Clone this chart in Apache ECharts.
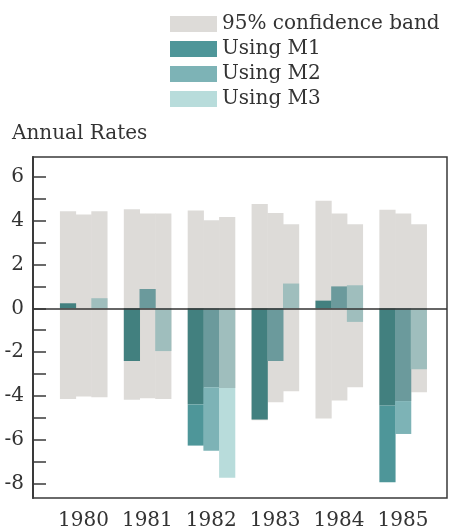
<!DOCTYPE html>
<html>
<head>
<meta charset="utf-8">
<script src="https://cdn.jsdelivr.net/npm/echarts@6/dist/echarts.min.js"></script>
<style>
html,body{margin:0;padding:0;background:#fff;}
#c{width:452px;height:531px;}
</style>
</head>
<body>
<div id="c"></div>
<script>
// ---- data ----
var years = ['1980', '1981', '1982', '1983', '1984', '1985'];
// 95% confidence band, three columns per year (M1, M2, M3)
var bandHighM1 = [4.43, 4.52, 4.46, 4.76, 4.91, 4.50];
var bandHighM2 = [4.28, 4.32, 4.02, 4.35, 4.32, 4.32];
var bandHighM3 = [4.43, 4.32, 4.16, 3.83, 3.83, 3.83];
var bandLowM1 = [-4.13, -4.17, -4.38, -5.10, -5.03, -4.43];
var bandLowM2 = [-4.02, -4.10, -3.60, -4.28, -4.20, -4.23];
var bandLowM3 = [-4.05, -4.14, -3.63, -3.78, -3.60, -3.83];
// forecast errors
var m1 = [0.23, -2.40, -6.26, -5.07, 0.35, -7.93];
var m2 = [0.00, 0.88, -6.50, -2.40, 1.00, -5.73];
var m3 = [0.46, -1.95, -7.73, 1.13, 1.05, -2.78];
var m3From = [0, 0, 0, 0, -0.62, 0];
var zeros = [0, 0, 0, 0, 0, 0];
var yTicks = [-8, -7, -6, -5, -4, -3, -2, -1, 0, 1, 2, 3, 4, 5, 6];
var yLabels = [-8, -6, -4, -2, 0, 2, 4, 6];
var seriesNames = ['95% confidence band', 'Using M1', 'Using M2', 'Using M3'];

var bandColor = '#dddbd8';
var colors = ['#4e9699', '#7db3b6', '#b8dcdb'];
var innerColors = ['#42807f', '#6b9a9c', '#9fbebd'];
var COLW = 0.2457;
var FONT = 'DejaVu Serif';
var INK = '#333';

var bandHigh = [bandHighM1, bandHighM2, bandHighM3];
var bandLow = [bandLowM1, bandLowM2, bandLowM3];
var vals = [m1, m2, m3];
var froms = [zeros, zeros, m3From];

var bandData = [];
for (var i = 0; i < years.length; i++) {
  for (var c = 0; c < 3; c++) {
    bandData.push([i, c, bandLow[c][i], bandHigh[c][i]]);
  }
}
function seriesData(c) {
  var d = [];
  for (var i = 0; i < years.length; i++) {
    d.push([i, c, froms[c][i], vals[c][i], bandLow[c][i], bandHigh[c][i]]);
  }
  return d;
}

function rectFor(api, i, c, a, b, color) {
  var x0 = i + (c - 1.5) * COLW;
  var p1 = api.coord([x0, Math.max(a, b)]);
  var p2 = api.coord([x0 + COLW, Math.min(a, b)]);
  return {
    type: 'rect',
    shape: { x: p1[0], y: p1[1], width: p2[0] - p1[0] + 0.5, height: p2[1] - p1[1] },
    style: { fill: color }
  };
}

function bandRender(params, api) {
  return rectFor(api, api.value(0), api.value(1), api.value(2), api.value(3), bandColor);
}

function barRender(params, api) {
  var i = api.value(0), c = api.value(1);
  var from = api.value(2), to = api.value(3), lo = api.value(4), hi = api.value(5);
  var top = Math.max(from, to), bot = Math.min(from, to);
  var children = [];
  if (top === bot) return { type: 'group', children: [] };
  var inTop = Math.min(top, hi), inBot = Math.max(bot, lo);
  if (inTop > inBot) children.push(rectFor(api, i, c, inBot, inTop, innerColors[c]));
  if (bot < lo) children.push(rectFor(api, i, c, bot, Math.min(lo, top), colors[c]));
  if (top > hi) children.push(rectFor(api, i, c, Math.max(hi, bot), top, colors[c]));
  return { type: 'group', children: children };
}

var chart = echarts.init(document.getElementById('c'), null, { renderer: 'canvas' });
var series = [{
  name: seriesNames[0], type: 'custom', renderItem: bandRender,
  itemStyle: { color: bandColor }, data: bandData, silent: true
}];
for (var k = 0; k < 3; k++) {
  series.push({
    name: seriesNames[k + 1], type: 'custom', renderItem: barRender,
    itemStyle: { color: colors[k] }, data: seriesData(k), silent: true,
    z: 3
  });
}
series[3].markLine = {
  silent: true, symbol: 'none', animation: false,
  label: { show: false },
  lineStyle: { color: INK, width: 1.5, type: 'solid' },
  data: [{ yAxis: 0 }]
};

chart.setOption({
  animation: false,
  backgroundColor: '#fff',
  title: {
    text: 'Annual Rates', left: 7, top: 119,
    textStyle: { fontFamily: FONT, fontSize: 20, fontWeight: 'normal', color: INK }
  },
  legend: {
    orient: 'vertical', left: 165, top: 9, selectedMode: false,
    icon: 'rect', itemWidth: 47, itemHeight: 16, itemGap: 5,
    data: seriesNames,
    textStyle: { fontFamily: FONT, fontSize: 20, color: INK, lineHeight: 20 }
  },
  grid: {
    left: 33, right: 5, top: 157, bottom: 29,
    show: true, borderColor: '#3a3a3a', borderWidth: 1.5, containLabel: false
  },
  xAxis: {
    type: 'value', min: -0.79, max: 5.69,
    splitLine: { show: false },
    axisLine: { show: false, onZero: false },
    axisTick: { show: false },
    axisLabel: {
      customValues: [0, 1, 2, 3, 4, 5],
      formatter: function (v) { return years[Math.round(v)] || ''; },
      fontFamily: FONT, fontSize: 20, color: INK, margin: 13
    }
  },
  yAxis: {
    type: 'value', min: -8.65, max: 6.9,
    splitLine: { show: false },
    axisLine: { show: true, onZero: false, lineStyle: { color: '#3a3a3a', width: 2 } },
    axisTick: { show: true, inside: true, length: 13, customValues: yTicks,
      lineStyle: { color: '#3a3a3a', width: 1.5 } },
    axisLabel: { customValues: yLabels, fontFamily: FONT, fontSize: 20, color: INK, margin: 9 }
  },
  series: series
});
</script>
</body>
</html>
